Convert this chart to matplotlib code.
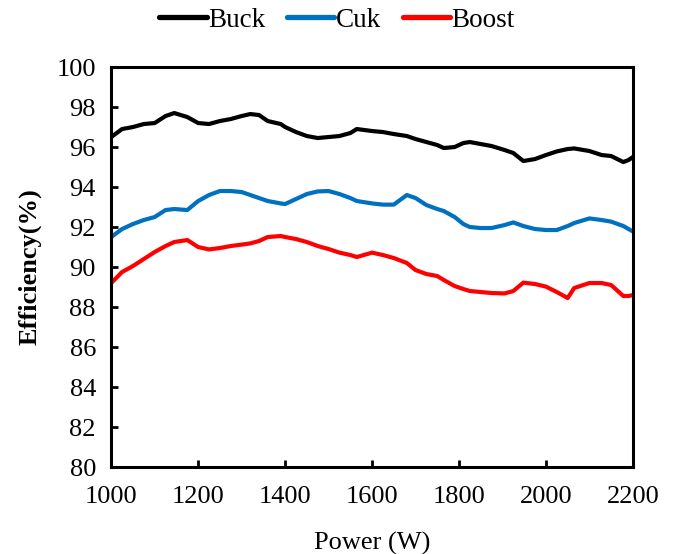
import numpy as np
import matplotlib
matplotlib.use("Agg")
import matplotlib.pyplot as plt

# Leistung in W
power = [1000, 1025, 1050, 1075, 1100, 1125, 1145, 1175, 1200, 1225, 1250, 1275,
         1300, 1320, 1340, 1360, 1390, 1400, 1425, 1450, 1475, 1500, 1525, 1550,
         1565, 1600, 1625, 1650, 1680, 1700, 1725, 1750, 1765, 1790, 1810, 1825,
         1850, 1875, 1905, 1925, 1948, 1975, 2000, 2025, 2050, 2065, 2100, 2128,
         2150, 2178, 2190, 2200]

buck = [96.5, 96.9, 97.0, 97.15, 97.2, 97.55, 97.7, 97.5, 97.2, 97.15, 97.3, 97.4,
        97.55, 97.65, 97.6, 97.3, 97.15, 97.0, 96.75, 96.55, 96.45, 96.5, 96.55, 96.7,
        96.9, 96.8, 96.75, 96.65, 96.55, 96.4, 96.25, 96.1, 95.95, 96.0, 96.2, 96.25,
        96.15, 96.05, 95.85, 95.7, 95.3, 95.4, 95.6, 95.78, 95.9, 95.93, 95.8, 95.6,
        95.55, 95.25, 95.35, 95.5]

cuk = [91.5, 91.9, 92.15, 92.35, 92.5, 92.85, 92.9, 92.85, 93.3, 93.6, 93.8, 93.8,
       93.75, 93.6, 93.45, 93.3, 93.18, 93.15, 93.4, 93.65, 93.78, 93.8, 93.65, 93.45,
       93.3, 93.18, 93.12, 93.12, 93.6, 93.45, 93.1, 92.9, 92.8, 92.5, 92.15, 92.0,
       91.95, 91.95, 92.1, 92.23, 92.05, 91.9, 91.85, 91.85, 92.05, 92.2, 92.43, 92.35,
       92.27, 92.05, 91.9, 91.78]

boost = [89.2, 89.75, 90.05, 90.4, 90.75, 91.05, 91.25, 91.35, 91.0, 90.88, 90.95, 91.05,
         91.12, 91.18, 91.3, 91.5, 91.55, 91.5, 91.4, 91.25, 91.05, 90.9, 90.72, 90.6,
         90.5, 90.72, 90.6, 90.45, 90.2, 89.85, 89.65, 89.55, 89.35, 89.05, 88.9, 88.8,
         88.75, 88.7, 88.68, 88.8, 89.22, 89.15, 89.02, 88.75, 88.45, 88.95, 89.2, 89.2,
         89.1, 88.55, 88.55, 88.6]

serien = [("Buck", buck, "#000000"), ("Cuk", cuk, "#0070C0"), ("Boost", boost, "#FF0000")]

plt.rcParams['font.family'] = ['Liberation Serif', 'DejaVu Serif']

fig = plt.figure(figsize=(6.74, 5.54), dpi=100)
ax = fig.add_axes([0.165, 0.157, 0.774, 0.722])

for name, werte, farbe in serien:
    ax.plot(power, werte, color=farbe, lw=3.0, label=name,
            solid_capstyle='round', solid_joinstyle='round')

ax.set_xlim(1000, 2200)
ax.set_ylim(80, 100)
ax.set_xticks(np.arange(1000, 2201, 200))
ax.set_yticks(np.arange(80, 101, 2))
ax.tick_params(direction='in', length=5, width=2, labelsize=19)
ax.tick_params(axis='x', pad=14)
ax.tick_params(axis='y', pad=11)

for s in ax.spines.values():
    s.set_linewidth(2.2)

ax.set_xlabel("Power (W)", fontsize=19, labelpad=17)
ax.set_ylabel("Efficiency(%)", fontsize=19, fontweight='bold', labelpad=11)

leg = fig.legend(loc='upper center', bbox_to_anchor=(0.5, 1.03), ncol=3, frameon=False,
                 fontsize=19.5, handlelength=1.75, handletextpad=0.05, columnspacing=0.8)
for linie in leg.get_lines():
    linie.set_linewidth(3.8)

fig.savefig("out.png", dpi=100)
